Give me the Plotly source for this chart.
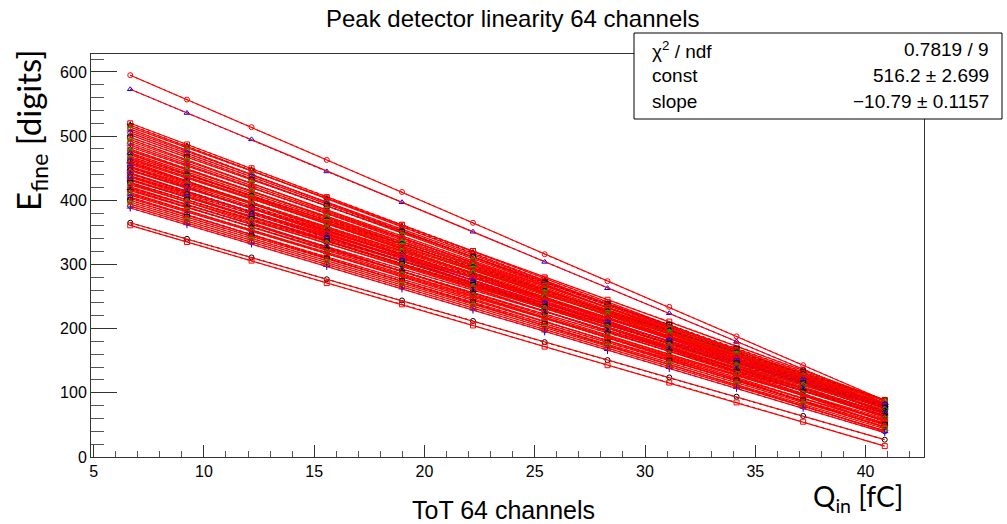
import plotly.graph_objects as go

# Injected charge (fC) at each measurement step
q_in = [6.66, 9.23, 12.16, 15.57, 18.98, 22.2, 25.45, 28.3, 31.1, 34.15, 37.17, 40.87]

# E_fine (digits) read for each of the 64 channels at each q_in step
e_fine = [
    [595, 557, 514, 463, 413, 365, 316, 274, 234, 188, 143, 88],
    [573, 536, 495, 445, 397, 351, 304, 263, 224, 180, 137, 84],
    [520, 487, 450, 405, 362, 321, 278, 241, 206, 167, 128, 80],
    [517, 484, 447, 402, 359, 318, 275, 238, 203, 164, 125, 77],
    [514, 482, 446, 403, 361, 321, 280, 245, 211, 173, 135, 89],
    [511, 478, 441, 396, 353, 312, 269, 232, 197, 158, 119, 71],
    [508, 476, 440, 397, 355, 315, 274, 239, 205, 167, 129, 83],
    [505, 473, 437, 394, 352, 312, 271, 236, 202, 164, 126, 80],
    [502, 470, 434, 391, 349, 309, 268, 233, 199, 161, 123, 77],
    [498, 467, 432, 391, 351, 312, 272, 238, 206, 169, 133, 88],
    [495, 463, 427, 384, 342, 302, 261, 226, 192, 154, 116, 70],
    [492, 461, 426, 385, 345, 306, 266, 232, 200, 163, 127, 82],
    [489, 458, 423, 382, 342, 303, 263, 229, 197, 160, 124, 79],
    [486, 455, 420, 379, 339, 300, 260, 226, 194, 157, 121, 76],
    [483, 453, 420, 380, 341, 304, 266, 233, 201, 166, 131, 88],
    [480, 449, 414, 373, 333, 294, 254, 220, 188, 151, 115, 70],
    [478, 448, 415, 375, 336, 299, 261, 228, 196, 161, 126, 83],
    [477, 447, 414, 374, 335, 298, 260, 227, 195, 160, 125, 82],
    [474, 444, 411, 371, 332, 295, 257, 224, 192, 157, 122, 79],
    [472, 441, 406, 365, 325, 286, 246, 212, 180, 143, 107, 62],
    [471, 441, 408, 368, 329, 292, 254, 221, 189, 154, 119, 76],
    [468, 439, 407, 369, 332, 296, 259, 227, 197, 163, 129, 88],
    [466, 436, 403, 363, 324, 287, 249, 216, 184, 149, 114, 71],
    [465, 436, 404, 366, 329, 293, 256, 224, 194, 160, 126, 85],
    [463, 434, 402, 364, 327, 291, 254, 222, 192, 158, 124, 83],
    [461, 430, 395, 354, 314, 275, 235, 201, 169, 132, 96, 51],
    [459, 429, 396, 356, 317, 280, 242, 209, 177, 142, 107, 64],
    [458, 429, 397, 359, 322, 286, 249, 217, 187, 153, 119, 78],
    [456, 427, 395, 357, 320, 284, 247, 215, 185, 151, 117, 76],
    [453, 426, 395, 358, 322, 288, 252, 222, 193, 160, 128, 88],
    [452, 423, 391, 353, 316, 280, 243, 211, 181, 147, 113, 72],
    [451, 421, 388, 348, 309, 272, 234, 201, 169, 134, 99, 56],
    [448, 419, 387, 349, 312, 276, 239, 207, 177, 143, 109, 68],
    [447, 420, 389, 352, 316, 282, 246, 216, 187, 154, 122, 82],
    [446, 419, 388, 351, 315, 281, 245, 215, 186, 153, 121, 81],
    [443, 414, 382, 344, 307, 271, 234, 202, 172, 138, 104, 63],
    [442, 413, 381, 343, 306, 270, 233, 201, 171, 137, 103, 62],
    [441, 414, 383, 346, 310, 276, 240, 210, 181, 148, 116, 76],
    [438, 412, 382, 347, 312, 279, 245, 216, 188, 157, 126, 88],
    [437, 410, 379, 342, 306, 272, 236, 206, 177, 144, 112, 72],
    [436, 407, 375, 337, 300, 264, 227, 195, 165, 131, 97, 56],
    [433, 406, 375, 338, 302, 268, 232, 202, 173, 140, 108, 68],
    [432, 405, 374, 337, 301, 267, 231, 201, 172, 139, 107, 67],
    [431, 405, 375, 340, 305, 272, 238, 209, 181, 150, 119, 81],
    [428, 401, 370, 333, 297, 263, 227, 197, 168, 135, 103, 63],
    [427, 401, 371, 336, 301, 268, 234, 205, 177, 146, 115, 77],
    [426, 397, 365, 327, 290, 254, 217, 185, 155, 121, 87, 46],
    [424, 398, 368, 333, 298, 265, 231, 202, 174, 143, 112, 74],
    [421, 394, 363, 326, 290, 256, 220, 190, 161, 128, 96, 56],
    [419, 393, 363, 328, 293, 260, 226, 197, 169, 138, 107, 69],
    [417, 390, 359, 322, 286, 252, 216, 186, 157, 124, 92, 52],
    [415, 389, 359, 324, 289, 256, 222, 193, 165, 134, 103, 65],
    [412, 385, 354, 317, 281, 247, 211, 181, 152, 119, 87, 47],
    [410, 384, 354, 319, 284, 251, 217, 188, 160, 129, 98, 60],
    [408, 382, 352, 317, 282, 249, 215, 186, 158, 127, 96, 58],
    [405, 378, 347, 310, 274, 240, 204, 174, 145, 112, 80, 40],
    [403, 377, 347, 312, 277, 244, 210, 181, 153, 122, 91, 53],
    [400, 374, 344, 309, 274, 241, 207, 178, 150, 119, 88, 50],
    [397, 371, 341, 306, 271, 238, 204, 175, 147, 116, 85, 47],
    [394, 368, 338, 303, 268, 235, 201, 172, 144, 113, 82, 44],
    [391, 365, 335, 300, 265, 232, 198, 169, 141, 110, 79, 41],
    [388, 362, 332, 297, 262, 229, 195, 166, 138, 107, 76, 38],
    [365, 340, 311, 277, 244, 212, 179, 151, 124, 94, 64, 27],
    [361, 335, 306, 271, 238, 205, 172, 143, 116, 85, 55, 17],
]

stat_names = ["χ<sup>2</sup> / ndf", "const", "slope"]
stat_values = ["0.7819 / 9", "516.2 ± 2.699", "−10.79 ± 0.1157"]

marker_colors = ["#ff0000", "#0000ff", "#ff0000", "#000000", "#ff0000", "#00bb00"]
marker_symbols = ["circle-open", "triangle-up-open", "square-open", "star-open",
                  "square-open", "circle-open", "diamond-open", "cross-thin-open"]

fig = go.Figure()
n = len(e_fine)
for i, row in enumerate(e_fine):
    col = marker_colors[i % len(marker_colors)]
    sym = marker_symbols[(i // 6 + i) % len(marker_symbols)]
    if i == 0:
        col, sym = "#ff0000", "circle-open"
    if i == 1:
        col, sym = "#0000ff", "triangle-up-open"
    if i == n - 2:
        col, sym = "#000000", "circle-open"
    if i == n - 1:
        col, sym = "#ff0000", "square-open"
    fig.add_trace(go.Scatter(
        x=q_in, y=row, mode="lines+markers",
        line=dict(color=col, width=1, dash="dot"),
        marker=dict(symbol=sym, size=5, color=col, line=dict(color=col, width=1)),
        showlegend=False, hoverinfo="skip"))
    fig.add_trace(go.Scatter(
        x=[q_in[0], q_in[-1]], y=[row[0], row[-1]], mode="lines",
        line=dict(color="#ff0000", width=1.2),
        showlegend=False, hoverinfo="skip"))

L, R, T, B = 91, 83, 54, 67
W, H = 1007, 524
pw, ph = W - L - R, H - T - B


def px(x):
    return (x - L) / pw


def py(y):
    return (H - B - y) / ph


axis_font = dict(family="Liberation Sans, Arial", size=16, color="#000")
fig.update_xaxes(range=[4.88, 42.65], showgrid=False, zeroline=False,
                 showline=True, linecolor="#333", linewidth=1, mirror=True,
                 ticks="inside", ticklen=12, tickcolor="#333", dtick=5, tick0=0,
                 tickfont=axis_font,
                 minor=dict(ticks="inside", ticklen=6, tickcolor="#555", dtick=1))
fig.update_yaxes(range=[0, 628], showgrid=False, zeroline=False,
                 showline=True, linecolor="#333", linewidth=1, mirror=True,
                 ticks="inside", ticklen=26, tickcolor="#333", dtick=100, tick0=0,
                 tickfont=axis_font,
                 minor=dict(ticks="inside", ticklen=13, tickcolor="#555", dtick=20))

annotations = [
    dict(text="Peak detector linearity 64 channels", x=px(513), y=py(19),
         font=dict(family="Liberation Sans, Arial", size=24, color="#000")),
    dict(text="E<sub>fine</sub> [digits]", x=px(30), y=py(130), textangle=-90,
         font=dict(family="Lato", size=33, color="#000")),
    dict(text="Q<sub>in</sub> [fC]", x=px(858), y=py(498),
         font=dict(family="Lato", size=28, color="#000")),
    dict(text="ToT 64 channels", x=px(503), y=py(510),
         font=dict(family="Liberation Sans, Arial", size=25, color="#000")),
]
rows_y = [50, 76, 101]
for name, val, yy in zip(stat_names, stat_values, rows_y):
    annotations.append(dict(text=name, x=px(650), y=py(yy), xanchor="left",
                            font=dict(family="Liberation Sans, Arial", size=19, color="#000")))
    annotations.append(dict(text=val, x=px(991), y=py(yy), xanchor="right",
                            font=dict(family="Liberation Sans, Arial", size=19, color="#000")))
for a in annotations:
    a.update(xref="paper", yref="paper", showarrow=False)
    a.setdefault("xanchor", "center")
    a.setdefault("yanchor", "middle")

fig.update_layout(
    width=W, height=H, margin=dict(l=L, r=R, t=T, b=B),
    paper_bgcolor="white", plot_bgcolor="white",
    annotations=annotations,
    shapes=[dict(type="rect", xref="paper", yref="paper",
                 x0=px(634), x1=px(1002), y0=py(119), y1=py(33),
                 line=dict(color="#000", width=1), fillcolor="white", layer="above")],
)
fig.write_html("out.html", config={"displayModeBar": False},
               post_script="document.body.style.margin='0';"
                           "document.body.style.overflow='hidden';")
